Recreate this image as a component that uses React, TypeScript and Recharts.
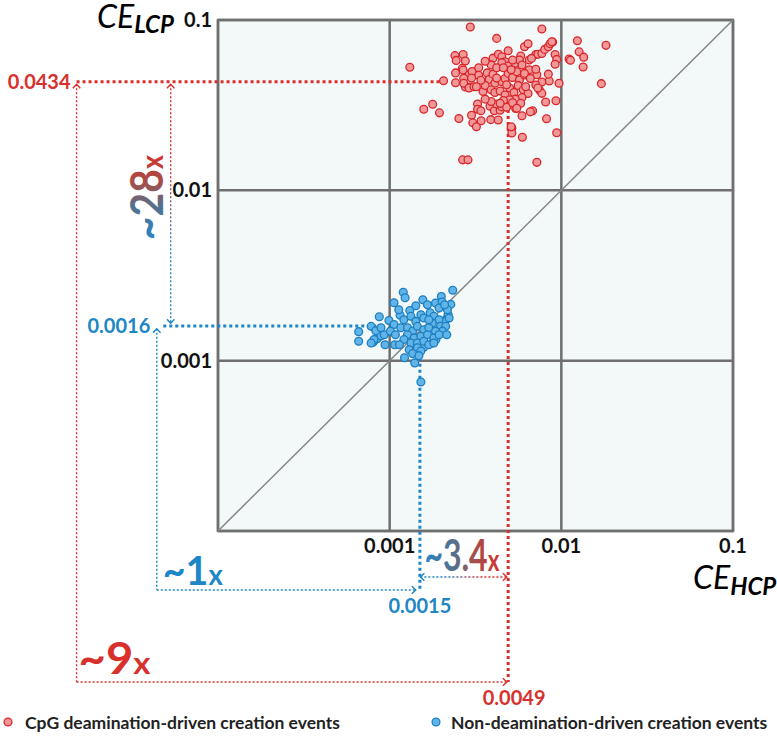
import React from "react";
import {
  ScatterChart,
  Scatter,
  XAxis,
  YAxis,
  CartesianGrid,
  ReferenceLine,
  ReferenceArea,
  Legend,
} from "recharts";

const FONT = "Lato, 'Open Sans', sans-serif";
const RED = "#d8312d";
const BLUE = "#1d86c6";

// [CE_HCP, CE_LCP]
const cpgPoints: [number, number][] = [
  [0.00295, 0.091], [0.0077, 0.0885], [0.0042, 0.078], [0.0124, 0.0755], [0.0182, 0.071],
  [0.00131, 0.0528], [0.0127, 0.065], [0.0135, 0.0605], [0.0111, 0.059], [0.0113, 0.058],
  [0.0134, 0.053], [0.0171, 0.0423], [0.0097, 0.0425], [0.00206, 0.044], [0.00158, 0.0299],
  [0.00178, 0.032], [0.00195, 0.0285], [0.00253, 0.0264], [0.003, 0.0276], [0.00305, 0.0249],
  [0.0032, 0.0236], [0.00341, 0.0256], [0.00388, 0.026], [0.00429, 0.0259], [0.00515, 0.0232],
  [0.00515, 0.0217], [0.00593, 0.0205], [0.0059, 0.0274], [0.0068, 0.0293], [0.0082, 0.0263],
  [0.0094, 0.0218], [0.00266, 0.0151], [0.00286, 0.0151], [0.0072, 0.0146], [0.0093, 0.0336],
  [0.0081, 0.033], [0.00542, 0.0302], [0.00325, 0.0321], [0.00325, 0.0299], [0.0034, 0.0293],
  [0.00384, 0.0312], [0.00407, 0.0293], [0.0044, 0.0295], [0.0061, 0.0697], [0.0064, 0.0725],
  [0.0071, 0.0627], [0.0073, 0.063], [0.0077, 0.0636], [0.008, 0.0672], [0.0084, 0.0697],
  [0.0086, 0.0725], [0.0089, 0.0742], [0.0092, 0.0627], [0.0094, 0.0587], [0.0092, 0.055],
  [0.0085, 0.0438], [0.0077, 0.0432], [0.0072, 0.0477], [0.0075, 0.0385], [0.0077, 0.0371],
  [0.0024, 0.0618], [0.00244, 0.0579], [0.00268, 0.0627], [0.00276, 0.0574], [0.00265, 0.052],
  [0.00242, 0.0489], [0.00268, 0.0508], [0.0029, 0.0476], [0.00302, 0.0498], [0.0033, 0.0524],
  [0.00242, 0.0428], [0.0027, 0.0455], [0.00276, 0.0404], [0.0029, 0.0404], [0.0049, 0.066],
  [0.004, 0.0597], [0.0043, 0.063], [0.0045, 0.0608], [0.0047, 0.0569], [0.0045, 0.0562],
  [0.0049, 0.0537], [0.0054, 0.0557], [0.0058, 0.0614], [0.0057, 0.0582], [0.0065, 0.0582],
  [0.0033, 0.0474], [0.0037, 0.0489], [0.0038, 0.0447], [0.004, 0.0481], [0.0041, 0.0425],
  [0.0045, 0.0434], [0.0047, 0.0453], [0.0049, 0.0486], [0.0052, 0.046], [0.0055, 0.0496],
  [0.0057, 0.0444], [0.0061, 0.0476], [0.0065, 0.051], [0.0027, 0.0425], [0.0029, 0.0399],
  [0.0031, 0.0406], [0.0032, 0.0406], [0.0035, 0.038], [0.0036, 0.0413], [0.0039, 0.0389],
  [0.0041, 0.0375], [0.0044, 0.0383], [0.0047, 0.0363], [0.005, 0.0399], [0.0053, 0.0375],
  [0.0056, 0.0413], [0.006, 0.0389], [0.0064, 0.037], [0.0059, 0.0351], [0.0054, 0.0343],
  [0.005, 0.034], [0.0046, 0.0337], [0.0042, 0.0321], [0.0039, 0.0332], [0.0036, 0.0343],
  [0.0045, 0.0309], [0.0048, 0.0307], [0.0058, 0.0324], [0.0044, 0.0324], [0.0052, 0.0327],
  [0.0055, 0.0303], [0.0051, 0.0236], [0.0066, 0.0289], [0.0088, 0.0746], [0.0059, 0.0544],
  [0.0071, 0.0514], [0.0061, 0.0486], [0.0066, 0.0453], [0.0084, 0.0481], [0.0071, 0.0415],
  [0.0062, 0.0406], [0.0073, 0.0399], [0.0067, 0.0595], [0.0039, 0.0545], [0.0036, 0.0573],
  [0.0042, 0.0524], [0.0051, 0.051], [0.0048, 0.0417], [0.0042, 0.0456], [0.0034, 0.0443],
  [0.003, 0.0456], [0.0052, 0.0582], [0.0046, 0.0524],
];

const nonDeamPoints: [number, number][] = [
  [0.0012, 0.00252], [0.00123, 0.00234], [0.00106, 0.00219], [0.00087, 0.00181], [0.00066, 0.00148],
  [0.00066, 0.0013], [0.0008, 0.00128], [0.00082, 0.00132], [0.00085, 0.00135], [0.00089, 0.0014],
  [0.00107, 0.00124], [0.0014, 0.00097], [0.00152, 0.00075], [0.00233, 0.00259], [0.002, 0.00238],
  [0.00156, 0.00228], [0.00166, 0.00213], [0.00185, 0.00218], [0.00202, 0.00221], [0.00227, 0.00214],
  [0.00214, 0.00176], [0.00219, 0.00187], [0.0021, 0.0017], [0.00186, 0.00133], [0.00177, 0.00127],
  [0.00158, 0.0012], [0.00133, 0.00115], [0.00144, 0.00116], [0.00194, 0.00204], [0.00217, 0.00199],
  [0.00209, 0.00213], [0.00078, 0.00159], [0.00083, 0.0015], [0.00089, 0.00156], [0.00093, 0.00142],
  [0.00081, 0.00133], [0.00078, 0.00127], [0.00099, 0.00172], [0.00106, 0.00163], [0.00115, 0.00185],
  [0.00121, 0.00174], [0.00131, 0.00197], [0.00133, 0.00182], [0.00142, 0.0017], [0.00152, 0.00186],
  [0.00158, 0.00178], [0.00172, 0.00191], [0.00181, 0.00182], [0.00194, 0.00174], [0.00177, 0.00166],
  [0.00198, 0.00159], [0.00222, 0.00178], [0.00212, 0.00159], [0.00203, 0.00149], [0.00101, 0.00149],
  [0.00108, 0.00142], [0.00116, 0.00156], [0.00127, 0.00156], [0.00136, 0.00149], [0.00145, 0.00159],
  [0.00158, 0.00152], [0.00169, 0.00156], [0.00185, 0.00149], [0.00127, 0.00142], [0.00139, 0.00136],
  [0.00152, 0.00139], [0.00166, 0.00142], [0.00181, 0.00136], [0.00194, 0.00142], [0.00215, 0.00142],
  [0.00121, 0.00133], [0.00133, 0.00127], [0.00145, 0.00127], [0.00158, 0.0013], [0.00169, 0.00124],
  [0.00181, 0.00127], [0.0013, 0.00116], [0.00145, 0.00119], [0.00152, 0.00114], [0.00136, 0.0011],
  [0.00113, 0.00199], [0.00142, 0.0021], [0.00169, 0.00174], [0.00094, 0.00124], [0.00114, 0.00124],
  [0.00148, 0.00107], [0.00122, 0.00104],
];

const axisTicks = [0.0001, 0.001, 0.01, 0.1];
const axisDomain: [number, number] = [0.0001, 0.1];

// medians marked on the chart
const cpgMedian = { hcp: 0.0049, lcp: 0.0434 };
const nonMedian = { hcp: 0.0015, lcp: 0.0016 };

// where the bracket arrows run (outside the plotted range)
const bracket9x = { x: 1.5e-5, y: 1.3e-5, end: 0.00482 };
const bracket1x = { x: 4.4e-5, y: 4.5e-5, top: 0.00154, end: 0.00142 };
const arrow28x = { x: 5.3e-5, top: 0.042, bottom: 0.00166 };
const arrow34x = { y: 5.37e-5, left: 0.00151, right: 0.00482 };
const cpgEdge = { x: 0.00204, y: 0.0296 };
const nonEdge = { x: 0.000855, y: 0.00113, start: 4.8e-5 };

const series = [
  { name: "CpG deamination-driven creation events", points: cpgPoints, fill: "#f29898", stroke: "#d8262a" },
  { name: "Non-deamination-driven creation events", points: nonDeamPoints, fill: "#61b4e7", stroke: "#1b7fc1" },
];

type Seg = { x1: number; y1: number; x2: number; y2: number };

function head(x: number, y: number, ang: number, color: string, key: string) {
  const s = 5.5;
  const w = 0.75;
  const ax = x - s * Math.cos(ang - w);
  const ay = y - s * Math.sin(ang - w);
  const bx = x - s * Math.cos(ang + w);
  const by = y - s * Math.sin(ang + w);
  return (
    <polyline key={key} points={`${ax},${ay} ${x},${y} ${bx},${by}`} fill="none" stroke={color} strokeWidth={1.4} />
  );
}

function dotted(o: {
  id: string;
  colors: [string, string];
  thick?: boolean;
  start?: boolean;
  end?: boolean;
  label?: (s: Seg) => React.ReactNode;
}) {
  return (p: any) => {
    const s: Seg = { x1: p.x1, y1: p.y1, x2: p.x2, y2: p.y2 };
    const [c0, c1] = o.colors;
    const ang = Math.atan2(s.y2 - s.y1, s.x2 - s.x1);
    const gid = `line-grad-${o.id}`;
    const stroke = c0 === c1 ? c0 : `url(#${gid})`;
    return (
      <g>
        {c0 !== c1 && (
          <defs>
            <linearGradient id={gid} gradientUnits="userSpaceOnUse" x1={s.x1} y1={s.y1} x2={s.x2} y2={s.y2}>
              <stop offset="0.3" stopColor={c0} />
              <stop offset="0.7" stopColor={c1} />
            </linearGradient>
          </defs>
        )}
        <line
          x1={s.x1}
          y1={s.y1}
          x2={s.x2}
          y2={s.y2}
          stroke={stroke}
          strokeWidth={o.thick ? 3 : 1.4}
          strokeDasharray={o.thick ? "3 3" : "2 2"}
        />
        {o.start && head(s.x1, s.y1, ang + Math.PI, c0, "s")}
        {o.end && head(s.x2, s.y2, ang, c1, "e")}
        {o.label && o.label(s)}
      </g>
    );
  };
}

const valueText = (text: string, color: string, x: number, y: number, anchor: "start" | "middle" | "end") => (
  <text x={x} y={y} dy="0.35em" textAnchor={anchor} fill={color} fontSize={20} fontWeight={700} fontFamily={FONT}>
    {text}
  </text>
);

const mixStops = (
  <>
    <stop offset="0" stopColor="#2a86c4" />
    <stop offset="0.4" stopColor="#55708c" />
    <stop offset="0.66" stopColor="#a2504c" />
    <stop offset="1" stopColor="#d4302c" />
  </>
);

const ratioText = (x: number, y: number, main: string, fill: string, size: number, len: number) => (
  <text x={x} y={y} fill={fill} fontSize={size} fontWeight={700} fontFamily={FONT} textLength={len} lengthAdjust="spacingAndGlyphs">
    {main}
    <tspan fontSize={size * 0.7}>x</tspan>
  </text>
);

const tickStyle = { fill: "#111", fontSize: 20, fontWeight: 700, fontFamily: FONT };
const fmt = (v: number) => (v === 0.0001 ? "" : String(v));

const renderDot = (fill: string, stroke: string) => (p: any) =>
  <circle cx={p.cx} cy={p.cy} r={3.9} fill={fill} stroke={stroke} strokeWidth={1.3} />;

const renderLegend = () => (
  <div style={{ position: "relative", height: 24, fontFamily: FONT, fontWeight: 700, fontSize: 17.5, color: "#222" }}>
    {series.map((s, i) => (
      <div
        key={s.name}
        style={{
          position: "absolute",
          left: i === 0 ? 3 : 431,
          top: 0,
          height: 24,
          display: "flex",
          alignItems: "center",
          gap: i === 0 ? 12 : 10,
          whiteSpace: "nowrap",
        }}
      >
        <svg width={10} height={10}>
          <circle cx={5} cy={5} r={3.9} fill={s.fill} stroke={s.stroke} strokeWidth={1.3} />
        </svg>
        <span>{s.name}</span>
      </div>
    ))}
  </div>
);

export default function App() {
  return (
    <div style={{ position: "absolute", left: 0, top: 0, width: 777, height: 736, background: "#fff" }}>
      <ScatterChart width={777} height={736} margin={{ top: 20, right: 44, bottom: 175, left: 158 }}>
        <CartesianGrid fill="#f3f8f8" fillOpacity={1} stroke="#6f6f6f" strokeWidth={2.5} />
        <XAxis
          type="number"
          dataKey="hcp"
          scale="log"
          domain={axisDomain}
          ticks={axisTicks}
          allowDataOverflow
          interval={0}
          height={30}
          axisLine={false}
          tickLine={false}
          tickSize={0}
          tickMargin={8}
          tick={tickStyle}
          tickFormatter={fmt}
        />
        <YAxis
          type="number"
          dataKey="lcp"
          scale="log"
          domain={axisDomain}
          ticks={axisTicks}
          allowDataOverflow
          interval={0}
          width={60}
          axisLine={false}
          tickLine={false}
          tickSize={0}
          tickMargin={6}
          tick={tickStyle}
          tickFormatter={fmt}
        />
        <ReferenceArea
          x1={axisDomain[0]}
          x2={axisDomain[1]}
          y1={axisDomain[0]}
          y2={axisDomain[1]}
          fill="none"
          stroke="#6f6f6f"
          strokeWidth={2.5}
          ifOverflow="visible"
        />
        <ReferenceLine
          segment={[{ x: axisDomain[0], y: axisDomain[0] }, { x: axisDomain[1], y: axisDomain[1] }]}
          stroke="#858585"
          strokeWidth={1.5}
          ifOverflow="visible"
        />

        {/* CpG medians */}
        <ReferenceLine
          segment={[{ x: bracket9x.x, y: cpgMedian.lcp }, { x: cpgEdge.x, y: cpgMedian.lcp }]}
          ifOverflow="visible"
          shape={dotted({
            id: "cpg-lcp",
            colors: [RED, RED],
            thick: true,
            label: (s) => valueText(String(cpgMedian.lcp), RED, s.x1 - 6, s.y1, "end"),
          })}
        />
        <ReferenceLine
          segment={[{ x: cpgMedian.hcp, y: cpgEdge.y }, { x: cpgMedian.hcp, y: bracket9x.y }]}
          ifOverflow="visible"
          shape={dotted({
            id: "cpg-hcp",
            colors: [RED, RED],
            thick: true,
            label: (s) => valueText(String(cpgMedian.hcp), RED, s.x2 + 6, s.y2 + 16, "middle"),
          })}
        />

        {/* non-deamination medians */}
        <ReferenceLine
          segment={[{ x: nonEdge.start, y: nonMedian.lcp }, { x: nonEdge.x, y: nonMedian.lcp }]}
          ifOverflow="visible"
          shape={dotted({
            id: "non-lcp",
            colors: [BLUE, BLUE],
            thick: true,
            label: (s) => valueText(String(nonMedian.lcp), BLUE, s.x1 - 13, s.y1, "end"),
          })}
        />
        <ReferenceLine
          segment={[{ x: nonMedian.hcp, y: nonEdge.y }, { x: nonMedian.hcp, y: bracket1x.y }]}
          ifOverflow="visible"
          shape={dotted({
            id: "non-hcp",
            colors: [BLUE, BLUE],
            thick: true,
            label: (s) => valueText(String(nonMedian.hcp), BLUE, s.x2, s.y2 + 16, "middle"),
          })}
        />

        {/* ~9x bracket */}
        <ReferenceLine
          segment={[{ x: bracket9x.x, y: arrow28x.top }, { x: bracket9x.x, y: bracket9x.y }]}
          ifOverflow="visible"
          shape={dotted({ id: "b9v", colors: [RED, RED], start: true })}
        />
        <ReferenceLine
          segment={[{ x: bracket9x.x, y: bracket9x.y }, { x: bracket9x.end, y: bracket9x.y }]}
          ifOverflow="visible"
          shape={dotted({
            id: "b9h",
            colors: [RED, RED],
            end: true,
            label: (s) => ratioText(s.x1 + 2, s.y1 - 8, "~9", RED, 44, 72),
          })}
        />

        {/* ~1x bracket */}
        <ReferenceLine
          segment={[{ x: bracket1x.x, y: bracket1x.top }, { x: bracket1x.x, y: bracket1x.y }]}
          ifOverflow="visible"
          shape={dotted({ id: "b1v", colors: [BLUE, BLUE], start: true })}
        />
        <ReferenceLine
          segment={[{ x: bracket1x.x, y: bracket1x.y }, { x: bracket1x.end, y: bracket1x.y }]}
          ifOverflow="visible"
          shape={dotted({
            id: "b1h",
            colors: [BLUE, BLUE],
            end: true,
            label: (s) => ratioText(s.x1 + 6, s.y1 - 5, "~1", BLUE, 40, 60),
          })}
        />

        {/* ~28x arrow */}
        <ReferenceLine
          segment={[{ x: arrow28x.x, y: arrow28x.top }, { x: arrow28x.x, y: arrow28x.bottom }]}
          ifOverflow="visible"
          shape={dotted({
            id: "a28",
            colors: [RED, BLUE],
            start: true,
            end: true,
            label: (s) => {
              const bx = s.x1 - 8;
              const my = (s.y1 + s.y2) / 2 - 6;
              return (
                <g transform={`rotate(-90 ${bx} ${my})`}>
                  <defs>
                    <linearGradient id="txt-grad-28" x1="0" y1="0" x2="1" y2="0">
                      {mixStops}
                    </linearGradient>
                  </defs>
                  <text
                    x={bx}
                    y={my}
                    textAnchor="middle"
                    fill="url(#txt-grad-28)"
                    fontSize={46}
                    fontWeight={700}
                    fontFamily={FONT}
                    textLength={85}
                    lengthAdjust="spacingAndGlyphs"
                  >
                    ~28<tspan fontSize={30}>x</tspan>
                  </text>
                </g>
              );
            },
          })}
        />

        {/* ~3.4x arrow */}
        <ReferenceLine
          segment={[{ x: arrow34x.left, y: arrow34x.y }, { x: arrow34x.right, y: arrow34x.y }]}
          ifOverflow="visible"
          shape={dotted({
            id: "a34",
            colors: [BLUE, RED],
            start: true,
            end: true,
            label: (s) => (
              <g>
                <defs>
                  <linearGradient id="txt-grad-34" x1="0" y1="0" x2="1" y2="0">
                    {mixStops}
                  </linearGradient>
                </defs>
                {ratioText(s.x1 + 4, s.y1 - 6, "~3.4", "url(#txt-grad-34)", 44, 75)}
              </g>
            ),
          })}
        />

        {series.map((s) => (
          <Scatter
            key={s.name}
            name={s.name}
            data={s.points.map(([hcp, lcp]) => ({ hcp, lcp }))}
            fill={s.fill}
            shape={renderDot(s.fill, s.stroke)}
            isAnimationActive={false}
          />
        ))}
        <Legend
          layout="horizontal"
          verticalAlign="middle"
          align="center"
          wrapperStyle={{ top: 710, left: 0, width: 777, height: 24 }}
          content={renderLegend}
        />
      </ScatterChart>
      <svg width={777} height={736} style={{ position: "absolute", left: 0, top: 0, pointerEvents: "none" }}>
        <text x={97} y={28} fontSize={32} fontStyle="italic" fontFamily={FONT} fill="#000">
          CE
          <tspan fontSize={24} fontWeight={700} dy={5}>LCP</tspan>
        </text>
        <text x={693} y={589} fontSize={32} fontStyle="italic" fontFamily={FONT} fill="#000">
          CE
          <tspan fontSize={24} fontWeight={700} dy={6}>HCP</tspan>
        </text>
      </svg>
    </div>
  );
}
